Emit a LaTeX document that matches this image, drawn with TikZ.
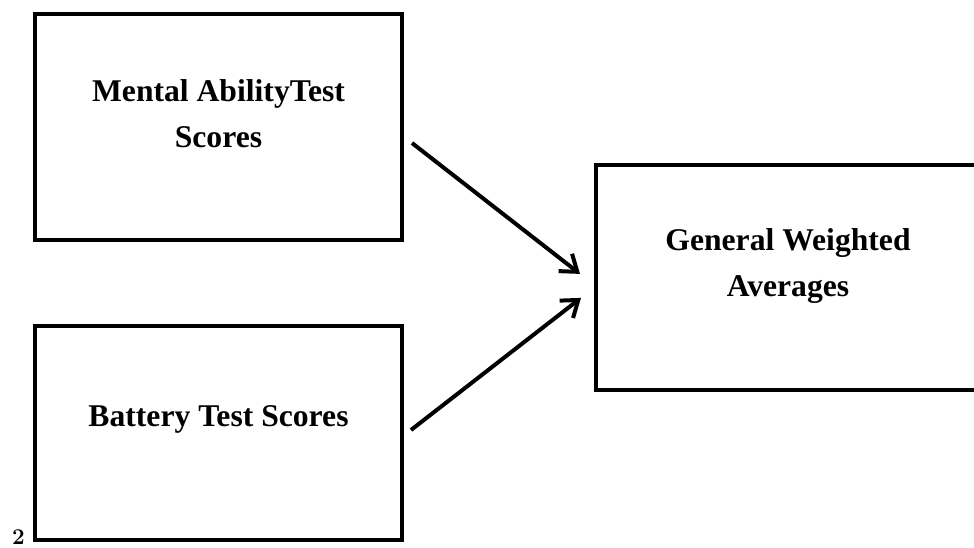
\documentclass[tikz,border=0pt]{standalone}
\usepackage{fontspec}
\newfontfamily\tnr{Liberation Serif}
\usetikzlibrary{arrows.meta}
\tikzset{
  box/.style={draw=black, line width=0.1cm, minimum width=9.175cm, inner sep=0pt},
  boxtext/.style={align=center, font=\tnr\bfseries\fontsize{22.5}{32.7}\selectfont},
  arr/.style={line width=0.1cm, -{Straight Barb[length=0.38cm,width=0.55cm]}}
}
\begin{document}
\begin{tikzpicture}
\useasboundingbox (0,0) rectangle (24.35,13.675);
% boxes
\node[box, minimum height=5.65cm] (mental) at (5.4625,10.5) {};
\node[box, minimum height=5.35cm] (battery) at (5.4625,2.85) {};
\node[box, minimum width=9.6cm, minimum height=5.625cm] (gwa) at (19.7,6.7375) {};
% texts
\node[boxtext] (mentaltext) at ([yshift=0.33cm]mental.center) {Mental AbilityTest\\Scores};
\node[boxtext] (batterytext) at ([yshift=0.35cm]battery.center) {Battery Test Scores};
\node[boxtext] (gwatext) at ([yshift=0.29cm]gwa.center) {General Weighted\\Averages};
\node[font=\bfseries\fontsize{16}{18}\selectfont, anchor=base] (pagenum) at (0.46,0.06) {2};
% arrows
\draw[arr] ([shift={(0.2,-0.4)}]mental.east) -- ([shift={(-0.35,0.09)}]gwa.west);
\draw[arr] ([shift={(0.175,0.075)}]battery.east) -- ([shift={(-0.325,-0.51)}]gwa.west);
\end{tikzpicture}
\end{document}
